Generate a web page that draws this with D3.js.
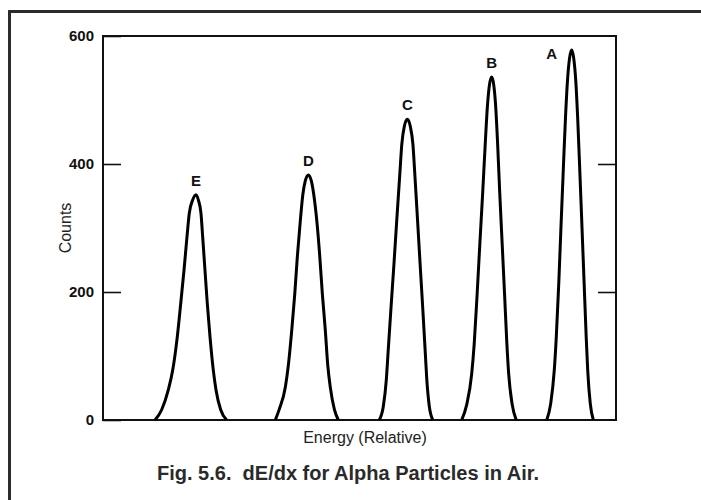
<!DOCTYPE html>
<html>
<head>
<meta charset="utf-8">
<script src="https://cdn.jsdelivr.net/npm/d3@7"></script>
<style>
  body { margin: 0; background: #fff; }
  svg { display: block; font-family: Arial, "Liberation Sans", Helvetica, sans-serif; }
</style>
</head>
<body>
<div id="chart"></div>
<script>
// peak labels, left to right
const peakNames = ["E", "D", "C", "B", "A"];

// points: [energy (relative, 0-100), counts]
const peakE = [[10.14, 0], [11.44, 16], [12.73, 47], [13.59, 78], [14.48, 130], [15.15, 182], [15.79, 234],
               [16.37, 286], [16.82, 323], [17.49, 344], [18.13, 352],
               [18.58, 344], [19.10, 323], [19.43, 286], [19.88, 234], [20.33, 182], [20.86, 130],
               [21.50, 78], [22.03, 47], [22.94, 16], [24.11, 0]];
const peakD = [[33.59, 0], [34.37, 17], [35.54, 51], [36.12, 85], [36.80, 141], [37.39, 198], [37.88, 255],
               [38.46, 311], [38.95, 352], [39.44, 374], [40.02, 383],
               [40.60, 374], [41.09, 352], [41.68, 311], [42.26, 255], [42.75, 198], [43.33, 141],
               [43.82, 85], [44.31, 51], [45.09, 17], [45.87, 0]];
const peakC = [[53.86, 0], [54.64, 21], [55.23, 63], [55.56, 104], [56.12, 173], [56.71, 243], [57.27, 313],
               [57.84, 382], [58.25, 431], [58.74, 459], [59.32, 470],
               [59.90, 459], [60.41, 431], [60.80, 382], [61.31, 313], [61.82, 243], [62.34, 173],
               [62.83, 104], [63.12, 63], [63.61, 21], [64.29, 0]];
const peakB = [[69.92, 0], [70.90, 24], [71.87, 72], [72.36, 119], [72.94, 198], [73.47, 277], [74.02, 356],
               [74.54, 436], [74.95, 492], [75.34, 524], [75.77, 536],
               [76.16, 524], [76.53, 492], [76.90, 436], [77.33, 356], [77.80, 277], [78.27, 198],
               [78.73, 119], [79.08, 72], [79.77, 24], [80.55, 0]];
const peakA = [[86.50, 0], [87.28, 26], [87.96, 77], [88.35, 128], [88.84, 213], [89.26, 299], [89.69, 384],
               [90.14, 470], [90.55, 531], [90.94, 565], [91.37, 578],
               [91.76, 565], [92.15, 531], [92.54, 470], [92.97, 384], [93.38, 299], [93.79, 213],
               [94.20, 128], [94.49, 77], [94.98, 26], [95.58, 0]];

const yTicks = [0, 200, 400, 600];
const xLabel = "Energy (Relative)";
const yLabel = "Counts";
const caption = "Fig. 5.6.  dE/dx for Alpha Particles in Air.";

const width = 701, height = 500;
const margin = { top: 36, right: 85, bottom: 80, left: 103 };
const innerW = width - margin.left - margin.right;
const innerH = height - margin.top - margin.bottom;

const svg = d3.select("#chart").append("svg")
  .attr("width", width)
  .attr("height", height);

// outer frame (runs off the right and bottom edges)
svg.append("rect")
  .attr("x", 9.5).attr("y", 11.5)
  .attr("width", 720).attr("height", 520)
  .attr("fill", "none")
  .attr("stroke", "#2b2b2b")
  .attr("stroke-width", 3);

const g = svg.append("g")
  .attr("transform", `translate(${margin.left},${margin.top})`);

const x = d3.scaleLinear().domain([0, 100]).range([0, innerW]);
const y = d3.scaleLinear().domain([0, 600]).range([innerH, 0]);

// plot box
g.append("rect")
  .attr("width", innerW).attr("height", innerH)
  .attr("fill", "none")
  .attr("stroke", "#111")
  .attr("stroke-width", 2);

const yAxis = g.append("g")
  .call(d3.axisLeft(y).tickValues(yTicks).tickSize(-18).tickPadding(9).tickFormat(d3.format("d")));
yAxis.select(".domain").remove();
yAxis.selectAll("line").attr("stroke", "#111").attr("stroke-width", 1.6);
yAxis.selectAll("text")
  .attr("fill", "#111")
  .style("font-size", "15px")
  .style("font-weight", "bold")
  .style("font-family", "Arial, 'Liberation Sans', sans-serif");

const yAxisR = g.append("g")
  .attr("transform", `translate(${innerW},0)`)
  .call(d3.axisRight(y).tickValues([200, 400]).tickSize(-18).tickFormat(""));
yAxisR.select(".domain").remove();
yAxisR.selectAll("line").attr("stroke", "#111").attr("stroke-width", 1.6);

const line = d3.line()
  .x(d => x(d[0]))
  .y(d => y(d[1]))
  .curve(d3.curveMonotoneX);

const peaks = [peakE, peakD, peakC, peakB, peakA];
const labelShift = [0, 0, 0, 0, -20];

peaks.forEach((pts, i) => {
  g.append("path")
    .datum(pts)
    .attr("d", line)
    .attr("fill", "none")
    .attr("stroke", "#000")
    .attr("stroke-width", 3)
    .attr("stroke-linejoin", "round");

  const top = pts.reduce((a, b) => (b[1] > a[1] ? b : a));
  g.append("text")
    .attr("x", x(top[0]) + labelShift[i])
    .attr("y", i === 4 ? y(top[1]) + 9 : y(top[1]) - 9)
    .attr("text-anchor", "middle")
    .attr("fill", "#111")
    .style("font-size", "15px")
    .style("font-weight", "bold")
    .text(peakNames[i]);
});

g.append("text")
  .attr("x", 262)
  .attr("y", innerH + 23)
  .attr("text-anchor", "middle")
  .attr("fill", "#222")
  .style("font-size", "16px")
  .text(xLabel);

g.append("text")
  .attr("transform", `translate(-32,${innerH / 2}) rotate(-90)`)
  .attr("text-anchor", "middle")
  .attr("fill", "#222")
  .style("font-size", "16px")
  .text(yLabel);

svg.append("text")
  .attr("x", 348)
  .attr("y", 480)
  .attr("text-anchor", "middle")
  .attr("fill", "#2a2a2a")
  .style("font-size", "20px")
  .style("font-weight", "bold")
  .style("white-space", "pre")
  .text(caption);
</script>
</body>
</html>
